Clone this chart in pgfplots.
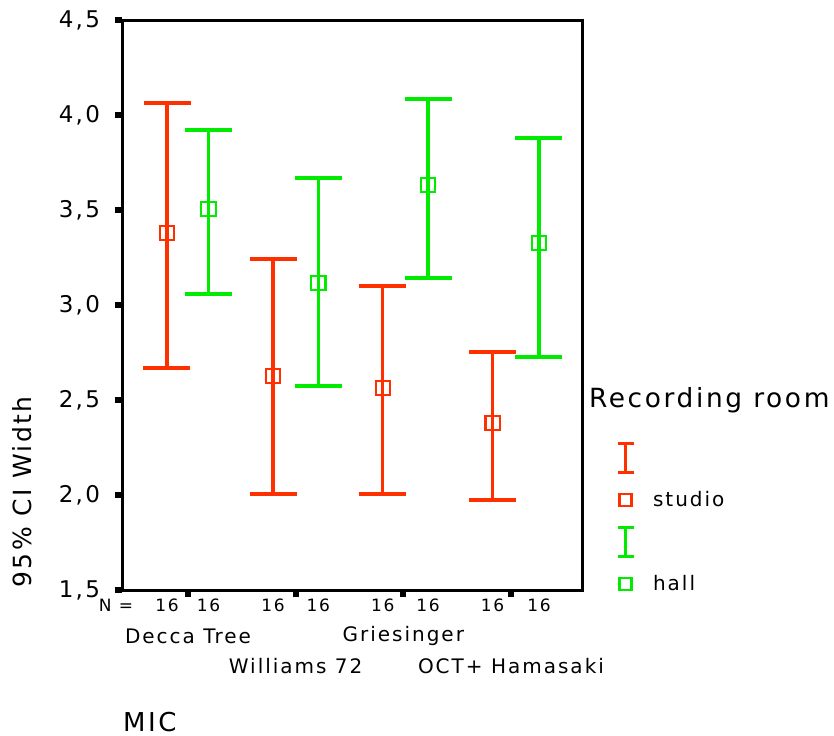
\documentclass[border=0pt]{standalone}
\usepackage{fontspec}
\setmainfont{DejaVu Sans}[LetterSpace=10]
\usepackage{pgfplots}
\pgfplotsset{compat=1.18}
\definecolor{sred}{RGB}{255,48,0}
\definecolor{sgreen}{RGB}{0,235,0}
\pgfplotstableread{
x y ep em
0.805 3.379 0.684 0.711
1.79 2.626 0.616 0.621
2.81 2.563 0.537 0.558
3.83 2.379 0.374 0.405
}\redtab
\pgfplotstableread{
x y ep em
1.19 3.505 0.416 0.447
2.21 3.116 0.552 0.542
3.23 3.632 0.452 0.490
4.26 3.326 0.553 0.600
}\greentab
\begin{document}
\begin{tikzpicture}
\begin{axis}[
  scale only axis, width=230pt, height=285pt,
  xmin=0.387, xmax=4.66, ymin=1.5, ymax=4.5,
  axis line style={line width=1.5pt},
  ytick={1.5,2,2.5,3,3.5,4,4.5},
  xtick={1,2,3,4}, xticklabels={},
  xtick pos=bottom, ytick pos=left,
  tick align=outside,
  major tick length=3.5pt,
  ytick style={line width=3pt, black},
  xtick style={line width=3pt, black},
  /pgf/number format/assume math mode=true,
  yticklabel style={/pgf/number format/.cd, use comma, fixed, fixed zerofill, precision=1, /tikz/.cd, font=\fontsize{11.5}{13}\selectfont, xshift=-4pt},
  legend style={draw=none, fill=none, at={(axis description cs:1.06,0.276)}, anchor=north west,
     cells={anchor=west}, nodes={inner sep=0pt, minimum height=21pt}, column sep=9pt,
     font=\fontsize{10}{12}\selectfont},
  clip=false,
]
\addplot[forget plot, only marks, mark=square, mark size=3.6pt, mark options={line width=1.1pt, sred},
  error bars/.cd, y dir=both, y explicit,
  error bar style={line width=1.6pt, sred},
  error mark options={line width=1.6pt, sred, mark size=11.75pt, rotate=90}]
  table[x=x, y=y, y error plus=ep, y error minus=em] {\redtab};
\addplot[forget plot, only marks, mark=square, mark size=3.6pt, mark options={line width=1.1pt, sgreen},
  error bars/.cd, y dir=both, y explicit,
  error bar style={line width=1.6pt, sgreen},
  error mark options={line width=1.6pt, sgreen, mark size=11.75pt, rotate=90}]
  table[x=x, y=y, y error plus=ep, y error minus=em] {\greentab};
\addlegendimage{legend image code/.code={\draw[sred, line width=1.5pt] (4pt,-7.25pt) -- (4pt,7.25pt) (0pt,7.25pt)--(8pt,7.25pt) (0pt,-7.25pt)--(8pt,-7.25pt);}}
\addlegendentry{}
\addlegendimage{legend image code/.code={\draw[sred, line width=1.1pt] (1pt,-3pt) rectangle (7pt,3pt);}}
\addlegendentry{studio}
\addlegendimage{legend image code/.code={\draw[sgreen, line width=1.5pt] (4pt,-7.25pt) -- (4pt,7.25pt) (0pt,7.25pt)--(8pt,7.25pt) (0pt,-7.25pt)--(8pt,-7.25pt);}}
\addlegendentry{}
\addlegendimage{legend image code/.code={\draw[sgreen, line width=1.1pt] (1pt,-3pt) rectangle (7pt,3pt);}}
\addlegendentry{hall}
% bottom texts
\begin{scope}[font=\fontsize{8.5}{10}\selectfont]
\node at ([yshift=-7.5pt]axis cs:0.805,1.5) {16};
\node at ([yshift=-7.5pt]axis cs:1.19,1.5) {16};
\node at ([yshift=-7.5pt]axis cs:1.79,1.5) {16};
\node at ([yshift=-7.5pt]axis cs:2.21,1.5) {16};
\node at ([yshift=-7.5pt]axis cs:2.81,1.5) {16};
\node at ([yshift=-7.5pt]axis cs:3.23,1.5) {16};
\node at ([yshift=-7.5pt]axis cs:3.83,1.5) {16};
\node at ([yshift=-7.5pt]axis cs:4.26,1.5) {16};
\node at ([yshift=-7.5pt,xshift=-3pt]axis cs:0.387,1.5) {N =};
\end{scope}
\begin{scope}[font=\fontsize{10}{12}\selectfont]
\node at ([yshift=-23pt]axis cs:1,1.5) {Decca Tree};
\node at ([yshift=-38pt]axis cs:2,1.5) {Williams 72};
\node at ([yshift=-23pt]axis cs:3,1.5) {Griesinger};
\node at ([yshift=-38pt]axis cs:4,1.5) {OCT+ Hamasaki};
\end{scope}
\end{axis}
\node[anchor=west, font=\fontsize{13.2}{15}\selectfont] at (230pt,95pt) {Recording room};
\node[anchor=west, font=\fontsize{13}{15}\selectfont] at (-3pt,-66pt) {MIC};
\node[rotate=90, font=\fontsize{12.5}{14}\selectfont] at (-50pt,49pt) {95\% CI Width};
\pgfresetboundingbox
\path[use as bounding box] (-61pt,-72.5pt) rectangle (356pt,295pt);
\end{tikzpicture}
\end{document}
